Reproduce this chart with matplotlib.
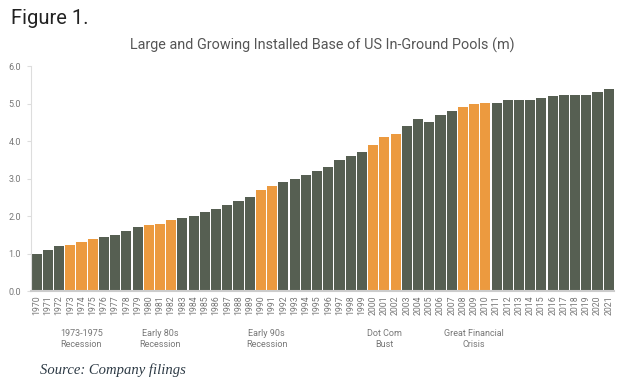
import numpy as np
from matplotlib import pyplot as plt

# Installed base of US in-ground pools (millions)
years = list(range(1970, 2022))
pools = [1.0, 1.1, 1.2, 1.22, 1.3, 1.4, 1.45, 1.5, 1.6, 1.7,
         1.75, 1.8, 1.9, 1.95, 2.0, 2.1, 2.2, 2.3, 2.4, 2.5,
         2.7, 2.8, 2.9, 3.0, 3.1, 3.2, 3.3, 3.5, 3.6, 3.7,
         3.9, 4.1, 4.2, 4.4, 4.6, 4.5, 4.7, 4.8, 4.9, 5.0,
         5.03, 5.03, 5.1, 5.1, 5.1, 5.14, 5.2, 5.22, 5.22, 5.24,
         5.3, 5.4]
recession_years = [1973, 1974, 1975, 1980, 1981, 1982, 1990, 1991,
                   2000, 2001, 2002, 2008, 2009, 2010]
recession_labels = ['1973-1975\nRecession', 'Early 80s\nRecession',
                    'Early 90s\nRecession', 'Dot Com\nBust',
                    'Great Financial\nCrisis']
recession_centers = [1974, 1981, 1990.5, 2001, 2009]

dark = '#565F52'
orange = '#EC9A3F'
grey = '#777777'

plt.rcParams['font.family'] = ['Roboto', 'DejaVu Sans']

fig = plt.figure(figsize=(6.22, 3.87), dpi=100)
ax = fig.add_axes([0.0498, 0.248, 0.937, 0.581])

x = np.arange(len(years))
colors = [orange if y in recession_years else dark for y in years]
ax.bar(x, pools, width=0.9, color=colors)

ax.set_xlim(-0.5, len(years) - 0.55)
ax.set_ylim(0, 6)
ax.set_yticks(np.arange(0, 7, 1))
ax.set_yticklabels([f'{v:.1f}' for v in range(7)])
ax.set_xticks(x)
ax.set_xticklabels([str(y) for y in years], rotation=90)
ax.tick_params(axis='x', length=0, labelsize=6.3, labelcolor=grey, pad=3)
ax.tick_params(axis='y', length=3, color='#dddddd', labelsize=6.5,
               labelcolor=grey, pad=4)

for s in ['top', 'right']:
    ax.spines[s].set_visible(False)
ax.spines['left'].set_color('#dddddd')
ax.spines['bottom'].set_color('#cccccc')
ax.spines['bottom'].set_linewidth(1.5)

for lbl, yr in zip(recession_labels, recession_centers):
    ax.text(yr - 1970, -0.17, lbl, transform=ax.get_xaxis_transform(),
            ha='center', va='top', fontsize=6.5, color=grey, linespacing=1.3)

ax.set_title('Large and Growing Installed Base of US In-Ground Pools (m)',
             fontsize=10.4, color='#555555', pad=12)
fig.text(0.018, 0.953, 'Figure 1.', fontsize=14.5, color='#222222', va='center')
fig.text(0.064, 0.043, 'Source: Company filings', fontsize=10.5,
         family='Liberation Serif', style='italic', color='#2d3a45', va='center')

plt.savefig('out.png', dpi=100)
